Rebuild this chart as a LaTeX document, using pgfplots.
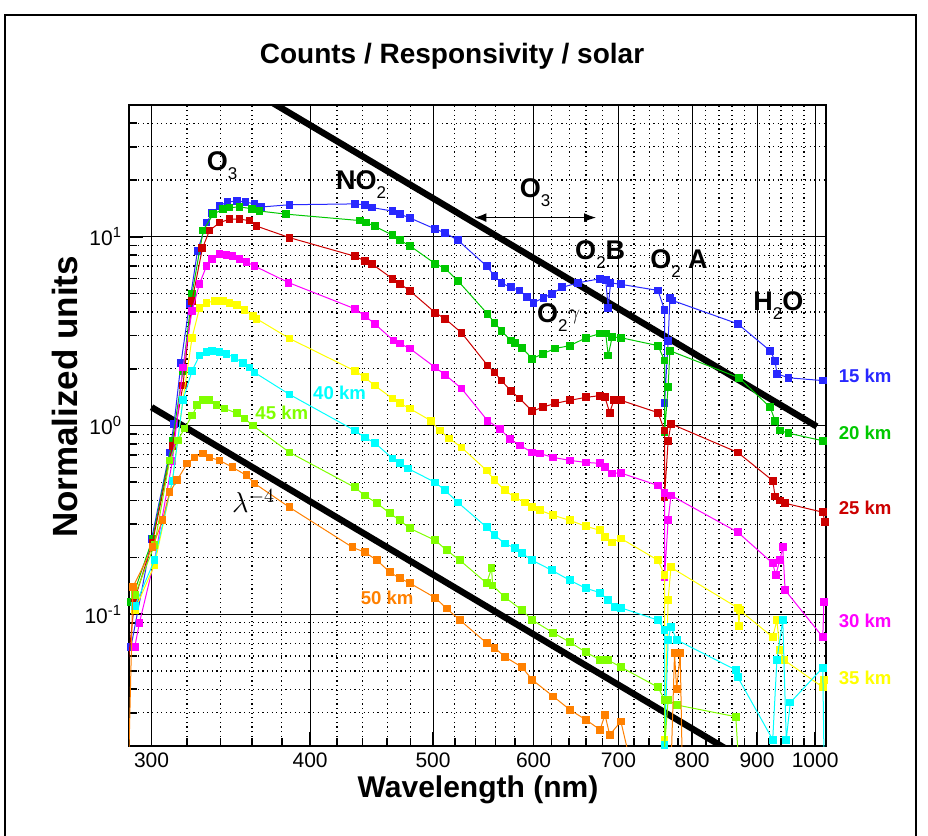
\documentclass[border=0pt]{standalone}
\usepackage{fontspec}
\setmainfont{Liberation Sans}
\usepackage{pgfplots}
\pgfplotsset{compat=1.18}
\usetikzlibrary{arrows.meta}

\definecolor{c15}{RGB}{40,40,255}
\definecolor{c20}{RGB}{0,200,0}
\definecolor{c25}{RGB}{204,0,0}
\definecolor{c30}{RGB}{255,0,255}
\definecolor{c35}{RGB}{255,255,0}
\definecolor{c40}{RGB}{0,255,255}
\definecolor{c45}{RGB}{128,255,0}
\definecolor{c50}{RGB}{255,128,0}

% subscript as in the original labels: small, regular weight, set low
\newcommand{\sub}[1]{\raisebox{-4.5pt}{\mdseries\fontsize{8.5}{8.5}\selectfont #1}}

\pgfplotsset{
  ser/.style={color=#1, line width=0.5pt, mark=square*, mark size=1.7pt, mark options={solid}},
}

\begin{document}
\begin{tikzpicture}
\path[use as bounding box] (0,0) rectangle (464pt,418pt);
\draw[line width=0.75pt] (2.5pt,0) -- (2.5pt,410.5pt) -- (458pt,410.5pt) -- (458pt,0);

\begin{axis}[
  at={(64.5pt,45pt)}, anchor=south west,
  scale only axis, width=348.5pt, height=320.5pt,
  xmode=log, ymode=log,
  xmin=288, xmax=1020, ymin=0.02, ymax=50,
  xtick={300,400,500,600,700,800,900,1000},
  xticklabels={300,400,500,600,700,800,900,1000},
  minor xtick={320,340,360,380,420,440,460,480,520,540,560,580,620,640,660,680,720,740,760,780,820,840,860,880,920,940,960,980},
  ytick={0.1,1,10},
  yticklabels={10\textsuperscript{-1},10\textsuperscript{0},10\textsuperscript{1}},
  minor ytick={0.03,0.04,0.05,0.06,0.07,0.08,0.09,0.2,0.3,0.4,0.5,0.6,0.7,0.8,0.9,2,3,4,5,6,7,8,9,20,30,40},
  grid=both,
  major grid style={black, line width=0.5pt},
  minor grid style={black, line width=0.6pt, dash pattern=on 0.6pt off 1.7pt},
  axis line style={line width=1pt},
  xtick pos=bottom, ytick pos=left,
  tick align=inside,
  major tick length=7pt, minor tick length=4pt,
  every tick/.style={black, line width=0.8pt},
  ticklabel style={font=\fontsize{10.5}{12}\selectfont},
  clip mode=individual,
]

% lambda^-4 reference lines
\addplot[black, line width=3.2pt, mark=none] coordinates {(370,53.4) (1003,0.988)};
\addplot[black, line width=3.2pt, mark=none] coordinates {(300,1.25) (850,0.0194)};

% 15 km
\addplot[ser=c15] coordinates {
(289,0.067)(300,0.25)(310,0.72)(312.5,1.02)(316.5,2.15)(321.4,4.42)(326.1,8.43)(331.5,11.9)(335,13.4)(339.4,14.6)
(344.3,15.3)(350.4,15.5)(355.8,15.3)(361.7,14.95)(366.3,14.4)(385.4,14.8)(433.7,14.95)(441.7,14.8)(447.3,14.3)
(464.5,13.7)(470.7,13.2)(479.3,12.6)(502,11.0)(511,10.5)(523,9.6)(551,7.0)(559,6.2)(566,5.7)(575.6,5.4)(585,5.2)
(593,4.8)(600,4.48)(611,4.75)(620.5,5.0)(632,5.4)(650,5.7)(677,6.0)(684,5.9)(687,4.2)(690,5.7)(703,5.6)
(752,5.2)(761,4.1)(761,1.31)(766,2.8)(768.6,4.75)(772,4.6)(869,3.46)(921.6,2.49)(930,2.2)(933,1.88)(953,1.79)(1014,1.73)
};
% 20 km
\addplot[ser=c20] coordinates {
(289,0.116)(300.5,0.25)(311.6,0.83)(317.6,1.95)(322.9,5.0)(329.5,10.8)(335.6,13.2)(341.5,14.0)(345.6,14.3)(352,14.4)
(360,14.1)(365,13.7)(382.7,13.2)(437.7,12.2)(443,11.9)(449.7,11.4)(464.5,10.2)(470.7,9.6)(479.3,8.97)(502,7.2)
(511,6.8)(523,5.85)(552,3.9)(559,3.5)(566,3.18)(575.6,2.82)(580,2.75)(587.5,2.58)(598.6,2.26)(610,2.4)(624,2.56)
(641,2.65)(660,2.92)(677,3.07)(684,3.07)(687,2.35)(692,2.95)(703,2.92)(752,2.65)(761,2.21)(761,0.92)(766,1.6)
(768.6,2.49)(871,1.79)(921.6,1.25)(930,1.06)(938.5,0.94)(953,0.91)(1014,0.83)
};
% 25 km
\addplot[ser=c25] coordinates {
(287.5,0.055)(291,0.12)(300.5,0.24)(311.6,0.78)(317.6,1.63)(322.9,4.58)(329,8.7)(333.3,10.8)(339.4,11.9)(345.6,12.4)
(352,12.4)(358.4,12.2)(363,11.4)(385.4,9.9)(433.7,7.9)(441.7,7.46)(447.3,7.2)(464.5,6.0)(470.7,5.65)(479.3,5.18)
(502,3.96)(511,3.68)(526.5,3.1)(552,2.08)(559,1.91)(566,1.73)(575.6,1.53)(585,1.39)(598.6,1.19)(610,1.25)(624,1.31)
(641,1.36)(660,1.41)(677,1.44)(683,1.41)(689,1.17)(694,1.36)(703,1.36)(752,1.17)(761,0.94)(761,0.416)(766,0.83)
(770,1.02)(869,0.72)(926,0.51)(930,0.42)(938,0.40)(947,0.387)(1014,0.347)(1018,0.307)
};
% 30 km
\addplot[ser=c30] coordinates {
(291,0.067)(293.5,0.09)(301.6,0.193)(311.6,0.65)(317.6,2.03)(322.9,4.06)(327.3,5.65)(331.5,7.0)(335,7.6)(339.4,8.1)
(343.7,8.0)(347.5,7.93)(352,7.65)(356.4,7.36)(361.7,7.0)(384.7,5.72)(433.7,4.16)(441.7,3.82)(449.7,3.46)(465.4,2.82)
(470.7,2.72)(479.3,2.56)(502,2.03)(511,1.86)(526.5,1.57)(552,1.06)(564.4,0.96)(574.7,0.85)(585.3,0.784)(598.6,0.72)
(607,0.71)(622,0.677)(641,0.653)(660,0.637)(677,0.63)(683,0.60)(692,0.557)(703,0.56)(752,0.481)(761,0.437)
(761,0.157)(766,0.314)(770,0.426)(869,0.272)(926,0.186)(931,0.161)(938,0.193)(943,0.226)(947,0.134)(1014,0.0756)(1016,0.116)
};
% 35 km
\addplot[ser=c35] coordinates {
(291,0.105)(301.6,0.182)(311.6,0.51)(317.6,1.36)(322.9,2.92)(327.3,4.2)(331.5,4.47)(336.4,4.58)(341.5,4.58)(345.6,4.47)
(350.4,4.36)(355.2,4.1)(360.5,3.82)(363,3.68)(385.4,2.89)(433.7,1.95)(441.7,1.80)(449.7,1.63)(464.5,1.39)(470.7,1.31)
(479.3,1.23)(498,1.06)(506,0.94)(515,0.853)(526.5,0.765)(551,0.578)(559,0.512)(569.5,0.453)(580,0.416)(591,0.391)
(598.6,0.368)(607,0.355)(622,0.334)(641,0.314)(660,0.292)(677,0.278)(683,0.256)(692,0.24)(703,0.252)(752,0.193)
(761,0.161)(761,0.0216)(766,0.119)(770,0.177)(869,0.108)(871,0.0864)(872,0.105)(926,0.0755)(933,0.093)(938,0.0646)
(945,0.0572)(1014,0.041)(1016,0.0448)
};
% 40 km
\addplot[ser=c40] coordinates {
(291,0.11)(301.6,0.193)(311.6,0.51)(317.6,1.36)(322.9,1.95)(327.3,2.35)(331.5,2.46)(335,2.49)(339.4,2.46)(343.7,2.40)
(348.8,2.29)(354,2.15)(358.4,2.03)(361.7,1.91)(385.4,1.46)(433.7,0.941)(441.7,0.864)(449.7,0.81)(464.5,0.669)
(470.7,0.63)(477.6,0.592)(502,0.499)(511,0.453)(523,0.391)(551,0.289)(559,0.262)(569.5,0.237)(580,0.224)(587.5,0.21)
(598.6,0.193)(620,0.171)(641,0.151)(660,0.137)(677,0.13)(686.6,0.119)(695,0.109)(703,0.108)(752,0.093)(761,0.0824)
(761,0.0203)(766,0.073)(770,0.0858)(778,0.073)(866,0.0506)(869,0.0464)(926,0.0216)(933,0.0572)(943,0.093)(949,0.0216)
(956,0.034)(1014,0.052)(1016,0.0195)
};
% 45 km
\addplot[ser=c45] coordinates {
(291,0.126)(301.6,0.232)(310,0.653)(314.6,0.833)(318.5,0.964)(322.9,1.13)(326,1.28)(329.5,1.36)(333.3,1.36)(337.6,1.28)
(342.5,1.23)(350.4,1.16)(355.2,1.09)(360.5,1.0)(385.4,0.72)(433.7,0.47)(441.7,0.426)(451.6,0.387)(462.2,0.343)
(470.7,0.314)(479.3,0.285)(502,0.246)(512.5,0.218)(524.9,0.193)(551,0.146)(556,0.175)(557,0.142)(569.5,0.123)
(587.5,0.105)(598.6,0.093)(622,0.0795)(641,0.071)(660,0.0627)(677,0.0572)(686.6,0.0572)(703,0.0524)(752,0.041)
(761,0.0351)(761,0.0195)(766,0.0351)(778,0.033)(866,0.0286)(869,0.0195)
};
% 50 km
\addplot[ser=c50] coordinates {
(288,0.0195)(290,0.139)(300.5,0.226)(306,0.314)(310,0.442)(314.2,0.512)(320,0.629)(324.4,0.677)(329.5,0.711)(333.3,0.677)
(339.4,0.653)(347.5,0.6)(356.4,0.544)(361.7,0.493)(385.4,0.368)(432,0.226)(441.7,0.213)(451.6,0.193)(462.2,0.167)
(470.7,0.155)(479.3,0.146)(502,0.122)(512.5,0.107)(524.9,0.093)(551,0.0703)(559,0.0664)(569.5,0.0594)(587.5,0.0524)
(598.6,0.0448)(622,0.0366)(641,0.0311)(660,0.0275)(677,0.0244)(683,0.0293)(689,0.0229)(703,0.027)(711,0.0195)
(770,0.015)(775,0.062)(778,0.04)(783,0.062)(786,0.015)
};

% annotations
\begin{scope}[every node/.style={font=\fontsize{13.5}{14}\bfseries, inner sep=0pt}]
\node[anchor=base west] at (axis cs:331.5,22.4) {O\sub{3}};
\node[anchor=base west] at (axis cs:419,17.9) {NO\sub{2}};
\node[anchor=base west] at (axis cs:585,16.1) {O\sub{3}};
\node[anchor=base west] at (axis cs:646.7,7.55) {O\sub{2}B};
\node[anchor=base west] at (axis cs:741,6.77) {O\sub{2} A};
\node[anchor=base west] at (axis cs:893.5,4.06) {H\sub{2}O};
\node[anchor=base west] at (axis cs:603.6,3.51) {O\sub{2}\raisebox{1.5pt}{\mdseries\fontsize{11}{11}\selectfont$\gamma$}};
\end{scope}
\draw[{Latex[length=6pt,width=4.5pt]}-{Latex[length=6pt,width=4.5pt]}, line width=0.6pt] (axis cs:539,12.65) -- (axis cs:672,12.65);
\node[anchor=base west, inner sep=0pt, font=\fontsize{14}{14}\selectfont] at (axis cs:347,0.345) {$\lambda^{-4}$};

\begin{scope}[every node/.style={font=\fontsize{9.3}{10}\bfseries, inner sep=0pt}]
\node[text=c15] at (axis cs:1095,1.84) {15 km};
\node[text=c20] at (axis cs:1095,0.918) {20 km};
\node[text=c25] at (axis cs:1095,0.364) {25 km};
\node[text=c30] at (axis cs:1095,0.0918) {30 km};
\node[text=c35] at (axis cs:1095,0.0459) {35 km};
\node[text=c40] at (axis cs:422,1.495) {40 km};
\node[text=c45] at (axis cs:380,1.172) {45 km};
\node[text=c50] at (axis cs:460,0.1213) {50 km};
\end{scope}
\end{axis}

\node[font=\fontsize{14}{14}\bfseries] at (226pt,390pt) {Counts / Responsivity / solar};
\node[rotate=90, font=\fontsize{17.5}{17.5}\bfseries] at (32.5pt,219.5pt) {Normalized units};
\node[font=\fontsize{15}{15}\bfseries] at (239pt,23pt) {Wavelength (nm)};
\end{tikzpicture}
\end{document}
